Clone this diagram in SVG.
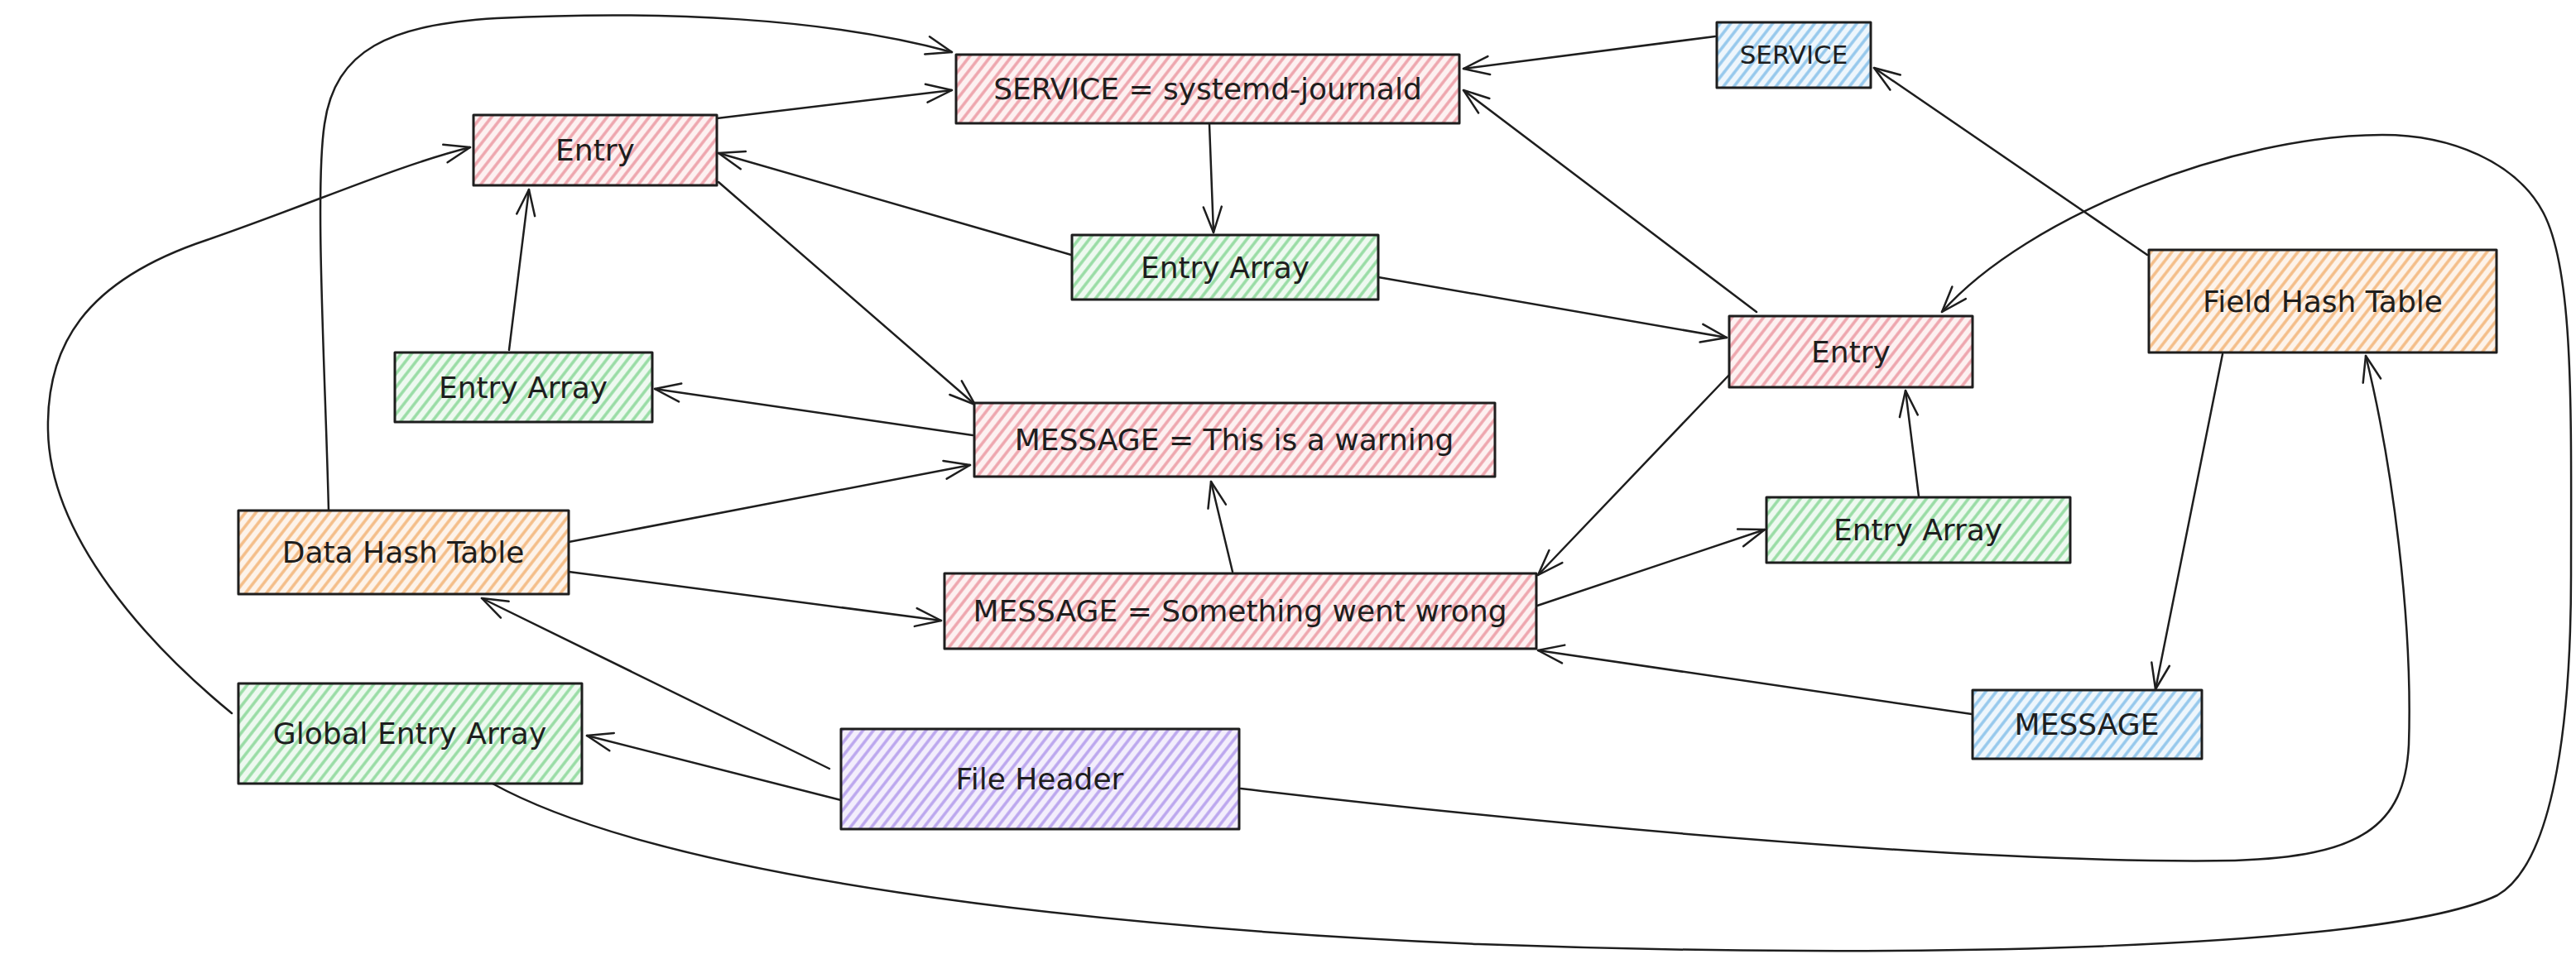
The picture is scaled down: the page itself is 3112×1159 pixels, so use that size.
<svg xmlns="http://www.w3.org/2000/svg" width="3112" height="1159" viewBox="0 0 3112 1159">
<style>
.box{stroke:#1e1e1e;stroke-width:3;stroke-linejoin:round}
.pink{fill:url(#hPink)}
.green{fill:url(#hGreen)}
.orange{fill:url(#hOrange)}
.blue{fill:url(#hBlue)}
.purple{fill:url(#hPurple)}
.lbl{font-family:"DejaVu Sans",sans-serif;font-size:36px;fill:#1e1e1e;text-anchor:middle;dominant-baseline:central}
.sm{font-size:31px}
.c{fill:none;stroke:#1e1e1e;stroke-width:2.5;stroke-linecap:round;marker-end:url(#ah)}
</style>
<defs>
<marker id="ah" markerUnits="userSpaceOnUse" markerWidth="36" markerHeight="30" viewBox="-34 -15 36 30" refX="0" refY="0" orient="auto">
<path d="M-31,-11 L0,0 L-31,11" fill="none" stroke="#1e1e1e" stroke-width="2.5" stroke-linecap="round" stroke-linejoin="round"/>
</marker>
<pattern id="hPink" patternUnits="userSpaceOnUse" width="10" height="10" patternTransform="rotate(38)"><rect width="10" height="10" fill="#fdf1f1"/><line x1="5" y1="-1" x2="5" y2="11" stroke="#eea5ad" stroke-width="3.5"/></pattern>
<pattern id="hGreen" patternUnits="userSpaceOnUse" width="10" height="10" patternTransform="rotate(38)"><rect width="10" height="10" fill="#eef9f0"/><line x1="5" y1="-1" x2="5" y2="11" stroke="#98dca4" stroke-width="3.5"/></pattern>
<pattern id="hOrange" patternUnits="userSpaceOnUse" width="10" height="10" patternTransform="rotate(38)"><rect width="10" height="10" fill="#fdf3ea"/><line x1="5" y1="-1" x2="5" y2="11" stroke="#f4bd87" stroke-width="3.5"/></pattern>
<pattern id="hBlue" patternUnits="userSpaceOnUse" width="10" height="10" patternTransform="rotate(38)"><rect width="10" height="10" fill="#eef6fc"/><line x1="5" y1="-1" x2="5" y2="11" stroke="#95c8ec" stroke-width="3.5"/></pattern>
<pattern id="hPurple" patternUnits="userSpaceOnUse" width="10" height="10" patternTransform="rotate(38)"><rect width="10" height="10" fill="#f3eefc"/><line x1="5" y1="-1" x2="5" y2="11" stroke="#bba6ee" stroke-width="3.5"/></pattern>
</defs>
<rect width="3112" height="1159" fill="#ffffff"/>

<g id="connectors">
<path class="c" d="M397,617 C393,450 380,230 392,150 C405,60 470,30 600,22 C800,12 1000,22 1150,63"/>
<path class="c" d="M866,143 L1150,109"/>
<path class="c" d="M2072,44 L1768,83"/>
<path class="c" d="M1461,150 L1466,281"/>
<path class="c" d="M1294,308 L868,185"/>
<path class="c" d="M1665,335 L2086,408"/>
<path class="c" d="M2122,377 L1768,109"/>
<path class="c" d="M2594,308 L2264,82"/>
<path class="c" d="M595,947 C800,1060 1300,1120 1786,1141 C2300,1160 2880,1148 3017,1082 C3090,1040 3106,850 3106,695 C3106,500 3110,330 3073,258 C3040,195 2960,163 2878,163 C2700,163 2450,260 2346,377"/>
<path class="c" d="M615,423 L639,229"/>
<path class="c" d="M868,220 L1178,489"/>
<path class="c" d="M1175,526 L791,470"/>
<path class="c" d="M687,655 L1172,562"/>
<path class="c" d="M687,691 L1137,750"/>
<path class="c" d="M1489,691 L1463,582"/>
<path class="c" d="M2090,452 L1858,695"/>
<path class="c" d="M1857,732 L2132,640"/>
<path class="c" d="M2318,600 L2302,472"/>
<path class="c" d="M2382,863 L1858,786"/>
<path class="c" d="M2685,428 L2604,833"/>
<path class="c" d="M1499,953 C1900,1000 2400,1045 2700,1040 C2850,1035 2905,1000 2910,900 C2915,750 2890,560 2858,430"/>
<path class="c" d="M1016,967 L709,889"/>
<path class="c" d="M1002,929 L582,723"/>
<path class="c" d="M280,862 C180,780 60,650 58,520 C56,420 100,340 250,290 C380,245 480,200 568,178"/>
</g>

<g id="node-service-systemd"><rect class="box pink" x="1155" y="66" width="608" height="83"/><text class="lbl" x="1459" y="107">SERVICE = systemd-journald</text></g>
<g id="node-service"><rect class="box blue" x="2074" y="27" width="186" height="79"/><text class="lbl sm" x="2167" y="66">SERVICE</text></g>
<g id="node-entry-left"><rect class="box pink" x="572" y="139" width="294" height="85"/><text class="lbl" x="719" y="181">Entry</text></g>
<g id="node-entry-array-mid"><rect class="box green" x="1295" y="284" width="370" height="78"/><text class="lbl" x="1480" y="323">Entry Array</text></g>
<g id="node-entry-array-left"><rect class="box green" x="477" y="426" width="311" height="84"/><text class="lbl" x="632" y="468">Entry Array</text></g>
<g id="node-message-warning"><rect class="box pink" x="1177" y="487" width="629" height="89"/><text class="lbl" x="1491" y="531">MESSAGE = This is a warning</text></g>
<g id="node-data-hash-table"><rect class="box orange" x="288" y="617" width="399" height="101"/><text class="lbl" x="487" y="667">Data Hash Table</text></g>
<g id="node-message-wrong"><rect class="box pink" x="1141" y="693" width="715" height="91"/><text class="lbl" x="1498" y="738">MESSAGE = Something went wrong</text></g>
<g id="node-global-entry-array"><rect class="box green" x="288" y="826" width="415" height="121"/><text class="lbl" x="495" y="886">Global Entry Array</text></g>
<g id="node-file-header"><rect class="box purple" x="1016" y="881" width="481" height="121"/><text class="lbl" x="1256" y="941">File Header</text></g>
<g id="node-entry-right"><rect class="box pink" x="2089" y="382" width="294" height="86"/><text class="lbl" x="2236" y="425">Entry</text></g>
<g id="node-entry-array-right"><rect class="box green" x="2134" y="601" width="367" height="79"/><text class="lbl" x="2317" y="640">Entry Array</text></g>
<g id="node-field-hash-table"><rect class="box orange" x="2596" y="302" width="420" height="124"/><text class="lbl" x="2806" y="364">Field Hash Table</text></g>
<g id="node-message"><rect class="box blue" x="2383" y="834" width="277" height="83"/><text class="lbl" x="2521" y="875">MESSAGE</text></g>
</svg>
